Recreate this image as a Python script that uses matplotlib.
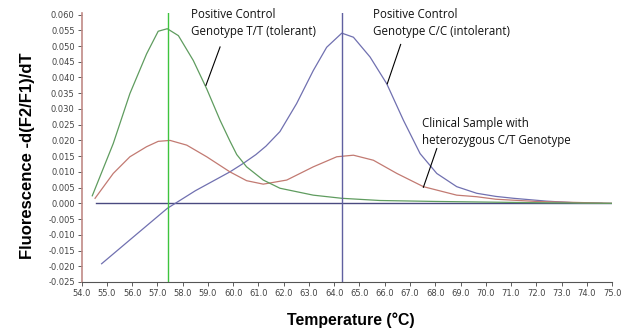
import matplotlib
matplotlib.use("Agg")
import matplotlib.pyplot as plt

# Data
tt_temp = [54.42, 55.25, 55.91, 56.57, 57.03, 57.39, 57.83, 58.42, 58.95, 59.48, 59.87, 60.14, 60.53, 61.19, 61.85, 63.17, 64.3, 65.81, 68.0, 70.0, 72.0, 75.0]
tt_val = [0.0024, 0.019, 0.0349, 0.0475, 0.0547, 0.0555, 0.0533, 0.0454, 0.0364, 0.0264, 0.0198, 0.0155, 0.0116, 0.0074, 0.0048, 0.0026, 0.0016, 0.0009, 0.0006, 0.0004, 0.0002, 0.0]

het_temp = [54.53, 55.25, 55.91, 56.57, 57.03, 57.5, 58.16, 58.95, 59.87, 60.53, 61.19, 62.12, 63.17, 64.1, 64.76, 65.55, 66.48, 67.53, 68.85, 69.64, 70.4, 72.0, 75.0]
het_val = [0.0016, 0.0095, 0.0148, 0.018, 0.0197, 0.020, 0.0185, 0.0148, 0.0100, 0.0072, 0.0061, 0.0074, 0.0116, 0.0148, 0.0153, 0.0137, 0.0095, 0.0053, 0.0026, 0.0021, 0.0013, 0.0006, 0.0]

cc_temp = [54.79, 56.0, 57.39, 58.5, 59.87, 60.4, 60.9, 61.3, 61.85, 62.51, 63.17, 63.7, 64.3, 64.76, 65.42, 66.08, 66.74, 67.4, 68.06, 68.85, 69.64, 70.4, 71.1, 72.4, 73.7, 74.6]
cc_val = [-0.0192, -0.0110, -0.0016, 0.0040, 0.0100, 0.0127, 0.0155, 0.0182, 0.0228, 0.0317, 0.0422, 0.0496, 0.0541, 0.0528, 0.0465, 0.0380, 0.0264, 0.0158, 0.0095, 0.0053, 0.0032, 0.0022, 0.0016, 0.0007, 0.0001, 0.0]

base_temp = [54.55, 75.0]
base_val = [0.0, 0.0]

tt_peak = 57.4
cc_peak = 64.3

xticks = [54.0 + i for i in range(22)]
yticks = [-0.025 + 0.005 * i for i in range(18)]

fig = plt.figure(figsize=(6.22, 3.29), dpi=100)
ax = fig.add_axes([0.1313, 0.1429, 0.9840 - 0.1313, 0.9605 - 0.1429])

c_green = "#5f9c5f"
c_red = "#c27a72"
c_blue = "#7070b0"

ax.plot(base_temp, base_val, color="#4a4a80", lw=1.0)
ax.plot(cc_temp, cc_val, color=c_blue, lw=0.9)
ax.plot(het_temp, het_val, color=c_red, lw=0.9)
ax.plot(tt_temp, tt_val, color=c_green, lw=0.9)
ax.axvline(tt_peak, color="#3ec43e", lw=1.0)
ax.axvline(cc_peak, color="#6060a0", lw=1.0)

ax.set_xlim(54.0, 75.0)
ax.set_ylim(-0.025, 0.0605)
ax.set_xticks(xticks)
ax.set_xticklabels([f"{v:.1f}" for v in xticks])
ax.set_yticks(yticks)
ax.set_yticklabels([f"{v:.3f}" for v in yticks])
ax.tick_params(axis="both", labelsize=6, colors="#444444", length=3, width=0.6, direction="out")
ax.tick_params(axis="x", pad=2)
ax.tick_params(axis="y", pad=2)

for s in ["top", "right"]:
    ax.spines[s].set_visible(False)
ax.spines["left"].set_color("#c08a86")
ax.spines["left"].set_linewidth(1.2)
ax.spines["bottom"].set_color("#555555")
ax.spines["bottom"].set_linewidth(0.8)

lab_family = ["Liberation Sans", "DejaVu Sans"]
fig.text(28 / 622, 1 - 155.6 / 329, "Fluorescence -d(F2/F1)/dT", rotation=90,
         ha="center", va="center", family=lab_family, weight="bold", size=12)
fig.text(351 / 622, 1 - 320 / 329, "Temperature (°C)",
         ha="center", va="center", family=lab_family, weight="bold", size=11.4)

ann_font = dict(family=["Open Sans", "DejaVu Sans"], size=8.3, color="#111111")
ax.text(58.32, 0.0620, "Positive Control\nGenotype T/T (tolerant)", va="top", ha="left", linespacing=1.35, **ann_font)
ax.plot([59.48, 58.92], [0.0497, 0.0375], color="black", lw=0.8)
ax.text(65.55, 0.0620, "Positive Control\nGenotype C/C (intolerant)", va="top", ha="left", linespacing=1.35, **ann_font)
ax.plot([66.63, 66.1], [0.0505, 0.038], color="black", lw=0.8)
ax.text(67.47, 0.0273, "Clinical Sample with\nheterozygous C/T Genotype", va="top", ha="left", linespacing=1.35, **ann_font)
ax.plot([68.06, 67.53], [0.0174, 0.0051], color="black", lw=0.8)

fig.savefig("out.png", dpi=100)
